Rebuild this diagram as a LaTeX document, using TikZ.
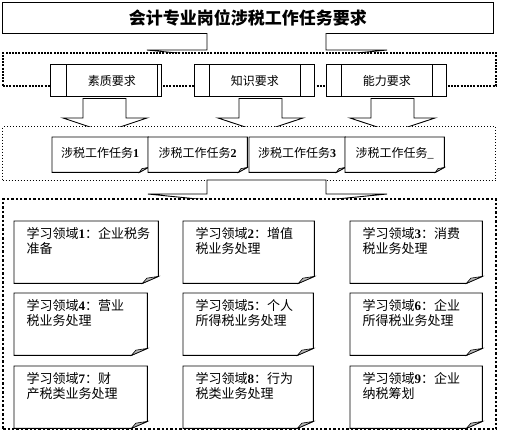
\documentclass[tikz,border=0pt]{standalone}
\usepackage{fontspec}
\setmainfont{Liberation Serif}
\newfontfamily\cjk{Noto Sans CJK SC}
\usetikzlibrary{calc}
\newcommand\dg[1]{{\rmfamily\bfseries #1}}
\tikzset{
  boxline/.style={draw=black, line width=0.9pt},
  foldline/.style={draw=black, line width=0.6pt, fill=gray!55},
  dotA/.style={draw=black, line width=2pt, dash pattern=on 2pt off 1.2pt, fill=white},
  dotB/.style={draw=black, line width=1pt, dash pattern=on 1pt off 2pt, fill=white},
  dotC/.style={draw=black, line width=2.4pt, dash pattern=on 2.4pt off 2pt, fill=white},
  barrow/.style={boxline, fill=white, line join=miter},
  reqbox/.style={boxline, fill=white, inner sep=0pt, font=\cjk\fontsize{12}{12}\selectfont},
  tasktext/.style={inner sep=0pt, font=\cjk\fontsize{12}{12}\selectfont},
  studytext/.style={anchor=north west, align=left, inner sep=0pt, font=\cjk\fontsize{13}{15}\selectfont},
}
\newcommand\notedraw[3]{%
  \filldraw[boxline, fill=white] (#1.north west) -- (#1.north east) -- ([yshift=#3pt]#1.south east) -- ([xshift=-#2pt]#1.south east) -- (#1.south west) -- cycle;
  \filldraw[foldline] ([xshift=-#2pt]#1.south east) -- ([xshift=-0.72*#2pt, yshift=0.75*#3pt]#1.south east) -- ([yshift=#3pt]#1.south east) -- cycle;
}
\newcommand\taskbox[5]{% name x y width text
  \node[anchor=north west, minimum width=#4pt, minimum height=35pt, inner sep=0pt] (#1) at (#2,#3) {};
  \notedraw{#1}{9}{5}
  \node[tasktext] (#1t) at ([yshift=1.5pt]#1.center) {#5};
}
\newcommand\studybox[5]{% name x y width text
  \node[anchor=north west, minimum width=#4pt, minimum height=62pt, inner sep=0pt] (#1) at (#2,#3) {};
  \notedraw{#1}{16}{7}
  \node[studytext] (#1t) at ([xshift=12.5pt,yshift=-6pt]#1.north west) {#5};
}
\begin{document}
\begin{tikzpicture}[x=1pt,y=-1pt]
\useasboundingbox[fill=white] (0,0) rectangle (507,432);

% title
\node[boxline, fill=white, anchor=north west, minimum width=491pt, minimum height=31pt, inner sep=0pt,
      font=\cjk\bfseries\fontsize{17}{17}\selectfont] (title) at (2,2) {会计专业岗位涉税工作任务要求};

% block arrow title -> requirements
\draw[barrow] (207,33) -- (207,50) -- (147,50) -- (266.5,62) -- (387,50) -- (326,50) -- (326,33);

% requirements group
\node[dotA, anchor=north west, minimum width=493pt, minimum height=33pt, inner sep=0pt] (g1) at (2,52) {};

\node[reqbox, anchor=north west, minimum width=91pt, minimum height=32pt] (r1) at (66,64) {素质要求};
\filldraw[boxline, fill=white] (r1.north west) rectangle ++(-16,32);
\filldraw[boxline, fill=white] (r1.north east) rectangle ++(4,32);
\node[reqbox, anchor=north west, minimum width=91pt, minimum height=32pt] (r2) at (209,64) {知识要求};
\filldraw[boxline, fill=white] (r2.north west) rectangle ++(-15,32);
\filldraw[boxline, fill=white] (r2.north east) rectangle ++(14,32);
\node[reqbox, anchor=north west, minimum width=91pt, minimum height=32pt] (r3) at (341,64) {能力要求};
\filldraw[boxline, fill=white] (r3.north west) rectangle ++(-15,32);
\filldraw[boxline, fill=white] (r3.north east) rectangle ++(14,32);

% arrows requirements -> tasks
\draw[barrow] (83,98.5) -- (83,118) -- (63,118) -- (105,132) -- (147,118) -- (126,118) -- (126,98.5) -- cycle;
\draw[barrow] (239,98.5) -- (239,118) -- (218,118) -- (260.5,132) -- (303,118) -- (282,118) -- (282,98.5) -- cycle;
\draw[barrow] (371,98.5) -- (371,118) -- (350,118) -- (392.5,132) -- (435,118) -- (414,118) -- (414,98.5) -- cycle;

% tasks group
\node[dotB, anchor=north west, minimum width=493pt, minimum height=54pt, inner sep=0pt] (g2) at (2,126) {};
\taskbox{t1}{52}{137}{96}{涉税工作任务\dg{1}}
\taskbox{t2}{148}{137}{99}{涉税工作任务\dg{2}}
\taskbox{t3}{249}{137}{96}{涉税工作任务\dg{3}}
\taskbox{t4}{345}{137}{99}{涉税工作任务{\rmfamily\_}}

% block arrow tasks -> study areas
\draw[barrow] (207,180) -- (207,194) -- (148,194) -- (266.5,206) -- (387,194) -- (326,194) -- (326,180) -- cycle;

% study areas group
\node[dotC, anchor=north west, minimum width=493pt, minimum height=230pt, inner sep=0pt] (g3) at (2,198) {};

\studybox{s1}{14}{221}{144}{学习领域\dg{1}：企业税务\\准备}
\studybox{s2}{183}{221}{131}{学习领域\dg{2}：增值\\税业务处理}
\studybox{s3}{350}{221}{132}{学习领域\dg{3}：消费\\税业务处理}
\studybox{s4}{14}{293}{133}{学习领域\dg{4}：营业\\税业务处理}
\studybox{s5}{183}{293}{130}{学习领域\dg{5}：个人\\所得税业务处理}
\studybox{s6}{350}{293}{132}{学习领域\dg{6}：企业\\所得税业务处理}
\studybox{s7}{14}{366}{133}{学习领域\dg{7}：财\\产税类业务处理}
\studybox{s8}{183}{366}{130}{学习领域\dg{8}：行为\\税类业务处理}
\studybox{s9}{350}{366}{132}{学习领域\dg{9}：企业\\纳税筹划}
\end{tikzpicture}
\end{document}
